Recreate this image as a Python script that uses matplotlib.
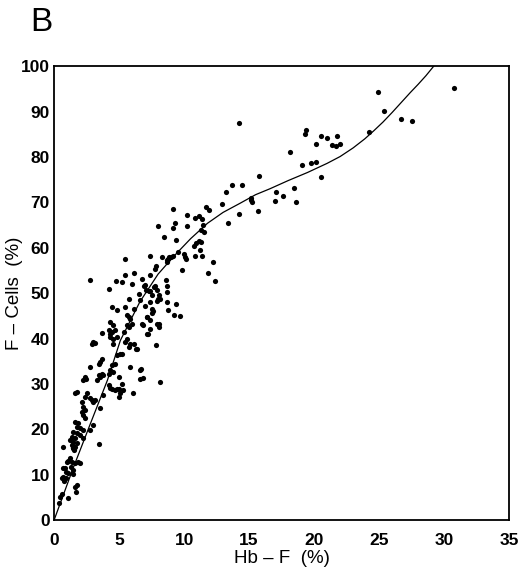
import matplotlib
matplotlib.use("Agg")
import matplotlib.pyplot as plt

plt.rcParams['font.family'] = ['Liberation Sans', 'DejaVu Sans']

# ---------- data ----------
hbf = [
    # low cluster
    0.72, 1.44, 1.54, 1.23, 1.10, 0.98, 1.36, 1.62, 2.00, 1.87, 0.85, 0.67, 1.29, 1.49,
    0.93, 1.10, 0.72, 0.59, 0.93, 1.49, 0.77, 1.75, 1.62, 1.70, 0.59, 0.46, 1.10, 0.41,
    2.39, 2.26, 3.29, 3.55, 3.80, 4.19, 4.32, 4.70, 4.96, 1.75, 1.62, 2.52, 2.39, 2.78,
    2.90, 3.03, 3.16, 2.13, 3.80, 3.55, 2.26, 2.13, 2.39, 2.26, 2.39, 1.62, 1.87, 1.75,
    2.00, 3.03, 2.78, 2.26, 1.49, 1.75, 2.00, 1.36, 1.62, 1.23, 1.49, 1.75, 1.36, 1.62,
    1.49, 3.49, 2.26,
    # middle
    4.45, 4.83, 5.47, 5.60, 5.86, 6.11, 4.32, 4.57, 5.99, 5.73, 5.60, 6.76, 4.19, 4.32,
    4.45, 4.70, 5.34, 3.68, 4.32, 4.57, 4.83, 3.03, 2.90, 3.16, 4.57, 5.60, 5.47, 5.86,
    5.73, 6.11, 6.37, 5.09, 4.83, 4.70, 4.45, 3.68, 3.55, 3.42, 5.86, 6.63, 2.78, 4.32,
    4.57, 4.19, 3.42, 3.68, 2.47, 4.96, 6.63,
    7.15, 7.86, 6.06, 5.22, 4.45, 4.83, 5.30, 5.09, 4.96, 8.12, 6.84, 5.22, 6.32,
    5.47, 7.35, 2.78, 6.11, 5.47, 4.78, 5.22, 4.26, 5.99, 6.76, 7.02, 6.89, 7.35, 6.50,
    7.27, 5.73, 6.63, 7.97, 8.43, 8.30, 8.69, 8.81, 7.79, 7.86, 7.79, 7.66, 7.92, 8.04,
    8.12, 7.53, 7.02, 7.40, 8.69, 8.77, 5.73, 7.15, 7.40, 7.92, 7.40, 8.04, 6.84,
    9.12, 9.28, 9.12, 10.23, 10.23, 10.82, 11.18, 11.41, 11.43, 11.70, 11.93, 11.33,
    11.51, 12.88, 13.21, 13.34, 9.41, 11.13, 11.28, 10.95, 10.74, 11.26, 11.41, 10.87,
    9.97, 10.05, 10.15, 9.54, 9.12, 9.02, 8.74, 8.69, 12.24, 9.87, 11.85, 12.41, 8.61,
    8.69, 8.66, 9.38, 9.20, 9.66, 8.07, 7.58, 7.53, 7.17, 7.19, 7.04, 7.40, 7.96, 7.92,
    7.56, 6.71,
    # high
    24.88, 30.74, 25.34, 26.65, 27.52, 24.26, 14.19, 19.38, 19.28, 20.51, 21.02, 21.77,
    20.17, 21.36, 21.69, 21.97, 18.12, 19.10, 19.76, 20.17, 20.56, 15.78, 13.72, 14.49,
    15.11, 15.16, 15.19, 17.09, 17.63, 18.43, 16.99, 18.58, 14.21, 15.68,
]
fcells = [
    16.1, 15.9, 15.4, 13.6, 13.0, 12.7, 12.8, 12.5, 12.5, 12.8, 11.4, 11.5, 11.7, 11.0,
    10.6, 10.3, 9.5, 9.2, 9.2, 10.1, 8.6, 7.7, 7.3, 6.2, 5.7, 5.1, 4.8, 3.7,
    31.6, 30.8, 30.8, 31.6, 31.9, 29.7, 29.1, 28.6, 28.9, 28.3, 27.9, 27.9, 27.2, 26.8,
    26.4, 26.1, 26.4, 26.1, 27.5, 24.7, 25.0, 23.9, 24.2, 23.1, 22.4, 21.7, 21.3, 20.6,
    20.2, 20.9, 19.8, 19.8, 19.5, 19.1, 18.7, 18.3, 18.0, 17.6, 17.2, 16.9, 16.5, 16.1,
    15.8, 16.7, 18.0,
    47.0, 46.3, 47.0, 45.2, 44.4, 46.6, 43.7, 43.0, 43.3, 42.6, 42.9, 43.2, 41.9, 41.1,
    41.5, 41.9, 41.5, 41.3, 40.4, 40.0, 40.4, 39.3, 38.9, 39.1, 38.9, 40.0, 39.3, 38.9,
    38.2, 38.9, 37.8, 36.7, 36.3, 34.5, 34.1, 35.6, 34.9, 34.5, 33.8, 33.0, 33.8, 33.0,
    32.7, 32.3, 31.9, 32.3, 31.2, 31.6, 31.2,
    41.0, 38.5, 27.9, 30.1, 29.0, 28.8, 28.6, 27.9, 27.2, 30.5, 31.3, 36.7, 37.8,
    57.5, 58.2, 52.9, 54.5, 54.0, 52.6, 52.5, 51.0, 52.1, 53.2, 51.9, 51.6, 54.0, 49.9,
    50.4, 48.7, 48.5, 64.8, 62.4, 57.9, 57.3, 58.0, 55.4, 55.9, 51.5, 51.4, 50.7, 49.6,
    48.8, 49.6, 47.1, 48.1, 48.1, 46.3, 44.8, 44.8, 44.1, 43.2, 42.2, 42.6, 42.9,
    68.6, 65.4, 64.3, 67.3, 64.7, 66.5, 67.1, 66.3, 65.1, 68.9, 68.4, 63.9,
    63.4, 69.7, 72.4, 65.4, 61.8, 61.5, 61.2, 61.1, 60.4, 59.5, 58.3, 58.1,
    58.6, 58.0, 57.5, 59.0, 58.1, 57.9, 57.5, 56.9, 56.8, 55.1, 54.4, 52.7, 52.9,
    51.5, 50.2, 47.7, 45.2, 44.9, 43.3, 46.0, 45.7, 44.7, 41.0, 50.8, 50.4, 48.7, 48.2,
    46.5, 33.3,
    94.4, 95.3, 90.2, 88.3, 88.0, 85.5, 87.4, 85.9, 85.0, 84.6, 84.1, 84.6,
    82.8, 82.7, 82.4, 82.8, 81.1, 78.2, 78.7, 79.0, 75.7, 75.9, 73.8, 73.9,
    71.0, 70.5, 70.1, 72.3, 71.5, 73.1, 70.4, 70.1, 67.5, 68.1,
]

# fitted curve
curve_x = [0, 1.5, 2.8, 4.1, 5.1, 6.6, 8.0, 9.2, 10.5, 11.8, 13.0, 14.3, 15.5, 16.6,
           18.0, 19.5, 21.0, 22.0, 23.0, 23.9, 24.6, 25.3, 26.0, 26.7, 27.4, 28.0,
           28.6, 29.2]
curve_y = [0, 11.7, 21.3, 30.8, 39.6, 48.1, 54.2, 58.1, 62.0, 65.4, 67.8, 69.8, 71.7, 73.0,
           74.8, 76.6, 78.6, 80.1, 82.0, 84.0, 85.8, 87.7, 89.8, 92.0, 94.2, 96.0,
           97.9, 100]

x_ticks = [0, 5, 10, 15, 20, 25, 30, 35]
y_ticks = [0, 10, 20, 30, 40, 50, 60, 70, 80, 90, 100]

fig = plt.figure(figsize=(5.2, 5.76), dpi=100)
ax = fig.add_axes([0.104, 0.097, 0.875, 0.788])

ax.scatter(hbf, fcells, s=14, color="black", linewidths=0, zorder=3)
ax.plot(curve_x, curve_y, color="black", lw=0.9, zorder=2)

ax.set_xlim(0, 35)
ax.set_ylim(0, 100)
ax.set_xticks(x_ticks)
ax.set_yticks(y_ticks)
ax.tick_params(length=0, labelsize=12.5)
ax.tick_params(axis="x", pad=9)
ax.tick_params(axis="y", pad=3)
for lab in ax.get_xticklabels() + ax.get_yticklabels():
    lab.set_fontweight("bold")
for sp in ax.spines.values():
    sp.set_linewidth(1.3)

ax.set_xlabel("Hb \u2013 F  (%)", fontsize=13.5, labelpad=2)
ax.set_ylabel("F \u2013 Cells  (%)", fontsize=13.5)
ax.yaxis.set_label_coords(-0.068, 0.5)

fig.text(0.058, 0.988, "B", fontsize=24, va="top", ha="left")

fig.savefig("out.png", dpi=100)
